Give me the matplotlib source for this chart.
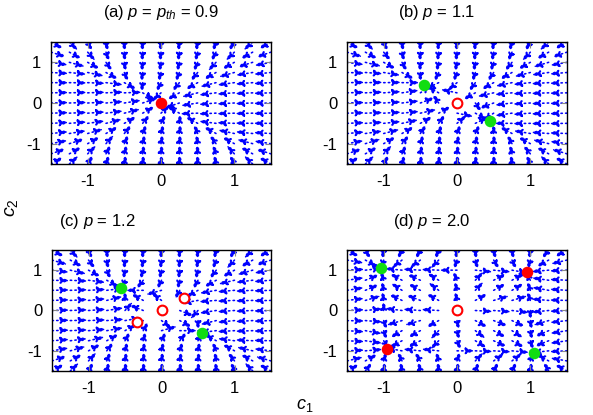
import numpy as np
import matplotlib
matplotlib.use("Agg")
import matplotlib.pyplot as plt
from matplotlib.patches import FancyArrowPatch

plt.rcParams['font.family'] = ['Liberation Sans', 'DejaVu Sans']
plt.rcParams['mathtext.fontset'] = 'custom'
plt.rcParams['mathtext.rm'] = 'Liberation Sans'
plt.rcParams['mathtext.it'] = 'Liberation Sans:italic'
plt.rcParams['axes.unicode_minus'] = False

# ---- data ----
p_values = [0.9, 1.1, 1.2, 2.0]
panel_titles = [r"(a) $p$ = $p_{th}$ = 0.9", r"(b) $p$ = 1.1",
                r"(c) $p$ = 1.2", r"(d) $p$ = 2.0"]
# model parameters of the flow  dc1/dt = (p-p0)c1 - c1^3 + k c2  (and 1<->2)
p0 = 1.0
k_coupling = -0.1

# fixed points
green_a = []
green_b = [(-0.45, 0.45), (0.45, -0.45)]
green_c = [(-0.55, 0.55), (0.55, -0.55)]
green_d = [(-1.04, 1.05), (1.05, -1.05)]
red_a = [(0.0, 0.0)]
red_b = []
red_c = []
red_d = [(-0.95, -0.95), (0.95, 0.95)]
open_a = []
open_b = [(0.0, 0.0)]
open_c = [(0.0, 0.0), (0.31, 0.32), (-0.33, -0.29)]
open_d = [(0.0, 0.0)]

x_ticks = [-1, 0, 1]
y_ticks = [-1, 0, 1]
grid_vals = [-1.5, -1.25, -1.0, -0.75, -0.5, -0.25, 0.0, 0.25, 0.5, 0.75, 1.0, 1.25, 1.5]

greens = [green_a, green_b, green_c, green_d]
reds = [red_a, red_b, red_c, red_d]
opens = [open_a, open_b, open_c, open_d]

W, H = 593, 415
fig = plt.figure(figsize=(W / 100, H / 100), dpi=100)

# axes boxes in pixels: left, right, top, bottom
boxes = [(51, 271, 42, 164), (347, 567, 42, 164),
         (52, 271, 250, 371), (347, 567, 250, 371)]
title_pos = [(161, 13), (437, 13), (97, 221), (432, 221)]

C1, C2 = np.meshgrid(np.array(grid_vals), np.array(grid_vals))
L = 0.24

for i in range(4):
    l, r, t, b = boxes[i]
    ax = fig.add_axes([l / W, 1 - b / H, (r - l) / W, (b - t) / H])
    ax.set_xlim(-1.5, 1.5)
    ax.set_ylim(-1.5, 1.5)
    p = p_values[i]
    mu = p - p0
    U = mu * C1 - C1 ** 3 + k_coupling * C2
    V = mu * C2 - C2 ** 3 + k_coupling * C1
    N = np.hypot(U, V)
    N[N == 0] = 1
    U = U / N * L
    V = V / N * L
    for x0, y0, du, dv in zip(C1.ravel(), C2.ravel(), U.ravel(), V.ravel()):
        arr = FancyArrowPatch((x0, y0), (x0 + du, y0 + dv),
                              arrowstyle='-|>,head_length=5,head_width=1.9',
                              mutation_scale=1, shrinkA=0, shrinkB=0,
                              color='#0000ff', lw=1.15,
                              linestyle=(0, (0.9, 2.0)))
        ax.add_patch(arr)
    for (x, y) in greens[i]:
        ax.plot(x, y, 'o', color='#11dd11', ms=7.3, zorder=5)
    for (x, y) in reds[i]:
        ax.plot(x, y, 'o', color='#ff0000', ms=7.3, zorder=5)
    for (x, y) in opens[i]:
        ax.plot(x, y, 'o', mfc='white', mec='#ff0000', mew=1.5, ms=7, zorder=5)
    ax.set_xticks(x_ticks)
    ax.set_yticks(y_ticks)
    ax.set_xticklabels([str(v) for v in x_ticks])
    ax.set_yticklabels([str(v) for v in y_ticks])
    ax.tick_params(direction='in', length=4, width=0.8, color='#888888',
                   top=True, right=True, labelsize=12, pad=7)
    for s in ax.spines.values():
        s.set_linewidth(1.0)
    tx, ty = title_pos[i]
    fig.text(tx / W, 1 - ty / H, panel_titles[i], ha='center', va='center', fontsize=12)

fig.text(305 / W, 1 / H, r"$c_1$", ha='center', va='bottom', fontsize=13)
fig.text(12 / W, 1 - 208 / H, r"$c_2$", ha='center', va='center', fontsize=14, rotation=90)

fig.savefig("out.png", dpi=100)
